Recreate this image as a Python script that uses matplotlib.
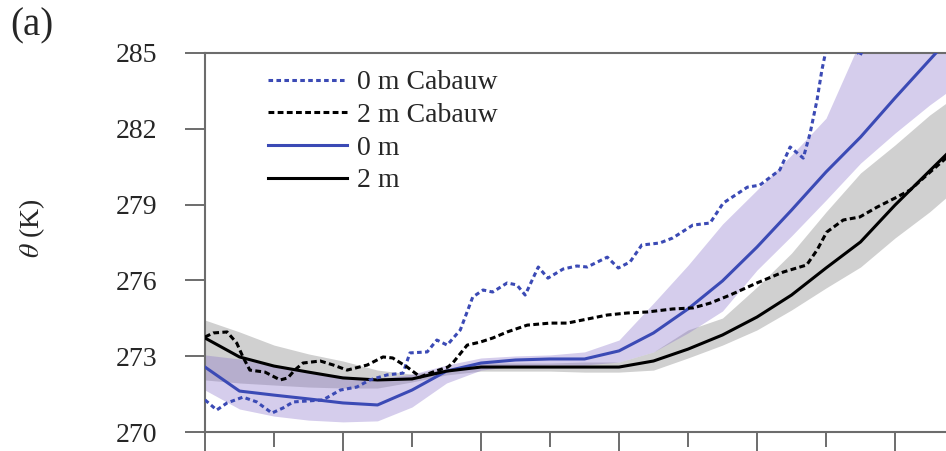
import matplotlib
matplotlib.use("Agg")
import matplotlib.pyplot as plt
from matplotlib.ticker import MultipleLocator

plt.rcParams["font.family"] = ["Liberation Serif", "DejaVu Serif"]
plt.rcParams["mathtext.fontset"] = "stix"

# ------------------------------------------------------------------ #
# Model ensemble (half-hourly output)
# ------------------------------------------------------------------ #
model_hours = [0.0, 0.5, 1.0, 1.5, 2.0, 2.5, 3.0, 3.5, 4.0, 4.5, 5.0, 5.5,
               6.0, 6.5, 7.0, 7.5, 8.0, 8.5, 9.0, 9.5, 10.0, 10.5, 11.0]

theta_0m = [272.57, 271.62, 271.46, 271.31, 271.15, 271.07, 271.66, 272.41,
            272.73, 272.85, 272.89, 272.89, 273.21, 273.92, 274.87, 275.98,
            277.32, 278.78, 280.29, 281.67, 283.22, 284.72, 286.22]
theta_0m_hi = [273.05, 272.89, 272.61, 272.37, 272.22, 272.10, 272.29, 272.65,
               272.93, 273.01, 273.05, 273.17, 273.64, 275.10, 276.60, 278.23,
               279.58, 280.96, 282.42, 285.50, 288.00, 288.00, 288.00]
theta_0m_lo = [271.66, 270.91, 270.63, 270.47, 270.40, 270.44, 270.99, 271.94,
               272.45, 272.61, 272.65, 272.65, 272.77, 273.17, 273.92, 274.79,
               276.41, 277.76, 279.18, 280.64, 281.83, 282.94, 283.93]

theta_2m = [273.72, 272.97, 272.61, 272.37, 272.14, 272.06, 272.10, 272.41,
            272.57, 272.57, 272.57, 272.57, 272.57, 272.81, 273.28, 273.84,
            274.55, 275.42, 276.49, 277.52, 278.98, 280.33, 281.67]
theta_2m_hi = [274.43, 273.96, 273.44, 273.09, 272.81, 272.45, 272.29, 272.49,
               272.73, 272.73, 272.73, 272.77, 272.77, 273.17, 274.04, 274.51,
               275.74, 277.08, 278.71, 280.25, 281.36, 282.54, 283.53]
theta_2m_lo = [272.06, 271.94, 271.86, 271.78, 271.74, 271.74, 271.98, 272.26,
               272.41, 272.41, 272.41, 272.37, 272.37, 272.45, 272.93, 273.44,
               274.04, 274.83, 275.70, 276.53, 277.68, 278.71, 279.89]

# ------------------------------------------------------------------ #
# Cabauw observations
# ------------------------------------------------------------------ #
obs0_hours = [0.00, 0.17, 0.32, 0.55, 0.75, 0.97, 1.13, 1.28, 1.71, 1.96,
              2.20, 2.39, 2.64, 2.87, 2.97, 3.22, 3.36, 3.51, 3.70, 3.88,
              4.03, 4.17, 4.38, 4.52, 4.64, 4.83, 4.97, 5.19, 5.39, 5.54,
              5.83, 5.99, 6.16, 6.33, 6.59, 6.78, 7.07, 7.32, 7.51, 7.86,
              8.04, 8.33, 8.48, 8.67, 8.77, 8.87, 8.94, 9.03, 9.28, 9.45,
              9.49, 9.53, 10.0, 11.0]
obs0_theta = [271.27, 270.87, 271.15, 271.38, 271.19, 270.75, 270.95, 271.19,
              271.27, 271.66, 271.78, 272.06, 272.26, 272.33, 273.13, 273.17,
              273.64, 273.44, 274.04, 275.34, 275.62, 275.54, 275.90, 275.82,
              275.42, 276.53, 276.09, 276.45, 276.57, 276.53, 276.92, 276.49,
              276.73, 277.40, 277.48, 277.68, 278.19, 278.27, 279.06, 279.69,
              279.77, 280.37, 281.28, 280.84, 281.83, 283.14, 284.32, 285.50,
              286.30, 285.10, 284.88, 285.10, 287.00, 288.00]

obs2_hours = [0.00, 0.12, 0.32, 0.46, 0.55, 0.65, 0.87, 1.09, 1.20, 1.30,
              1.42, 1.67, 1.86, 2.06, 2.35, 2.58, 2.72, 2.93, 3.12, 3.30,
              3.52, 3.59, 3.80, 3.99, 4.17, 4.38, 4.67, 5.00, 5.25, 5.54,
              5.83, 6.12, 6.41, 6.78, 7.07, 7.32, 7.61, 8.00, 8.38, 8.72,
              8.87, 9.01, 9.25, 9.49, 9.74, 10.03, 10.22, 10.51, 10.74, 11.0]
obs2_theta = [273.76, 273.92, 273.96, 273.52, 272.97, 272.45, 272.37, 272.06,
              272.14, 272.45, 272.73, 272.81, 272.65, 272.45, 272.65, 272.97,
              272.93, 272.57, 272.18, 272.37, 272.57, 272.73, 273.44, 273.56,
              273.72, 273.96, 274.23, 274.31, 274.31, 274.47, 274.63, 274.71,
              274.75, 274.87, 274.91, 275.10, 275.42, 275.90, 276.33, 276.61,
              277.20, 277.91, 278.39, 278.51, 278.90, 279.30, 279.58, 280.29,
              280.84, 281.35]

BLUE = "#3b4ab5"
SPINE = "#6c6c6c"
TEXT = "#262626"

fig = plt.figure(figsize=(9.46, 4.51), dpi=100)
ax = fig.add_axes([205 / 946, 19 / 451, 741 / 946, 379 / 451])

# ensemble spread
ax.fill_between(model_hours, theta_2m_lo, theta_2m_hi, color="#d0d0d0",
                lw=0, zorder=1)
ax.fill_between(model_hours, theta_0m_lo, theta_0m_hi, color="#8770c9",
                alpha=0.35, lw=0, zorder=2)

ax.plot(obs0_hours, obs0_theta, color=BLUE, lw=2.2, ls=(0, (1.5, 1.1)),
        label="0 m Cabauw", zorder=4)
ax.plot(obs2_hours, obs2_theta, color="black", lw=2.2, ls=(0, (1.9, 1.1)),
        label="2 m Cabauw", zorder=4)
ax.plot(model_hours, theta_0m, color=BLUE, lw=2.2, label="0 m", zorder=3)
ax.plot(model_hours, theta_2m, color="black", lw=2.2, label="2 m", zorder=3)

ax.set_xlim(0, 741 / 69)
ax.set_ylim(270, 285)
ax.set_yticks([270, 273, 276, 279, 282, 285])
ax.xaxis.set_major_locator(MultipleLocator(2))
ax.xaxis.set_minor_locator(MultipleLocator(1))

ax.spines["right"].set_visible(False)
for side in ("left", "top", "bottom"):
    ax.spines[side].set_color(SPINE)
    ax.spines[side].set_linewidth(1.5)

ax.tick_params(axis="y", direction="out", length=14.4, width=1.4,
               color=SPINE, pad=20, labelsize=20, labelcolor=TEXT)
ax.tick_params(axis="x", which="major", direction="out", length=16,
               width=1.4, color=SPINE, labelbottom=False)
ax.tick_params(axis="x", which="minor", direction="out", length=10.5,
               width=1.4, color=SPINE)

leg = ax.legend(loc="upper left", bbox_to_anchor=(0.085, 0.955),
                frameon=False, fontsize=20, handlelength=2.85,
                handletextpad=0.36, labelspacing=0.26, borderpad=0,
                borderaxespad=0)
for t in leg.get_texts():
    t.set_color(TEXT)

fig.text(32 / 946, 1 - 228 / 451, r"$\theta$ (K)", rotation=90,
         ha="center", va="center", fontsize=20, color=TEXT)
fig.text(10 / 946, 1 - 26 / 451, "(a)", ha="left", va="center",
         fontsize=28, color=TEXT)

fig.savefig("out.png", dpi=100)
